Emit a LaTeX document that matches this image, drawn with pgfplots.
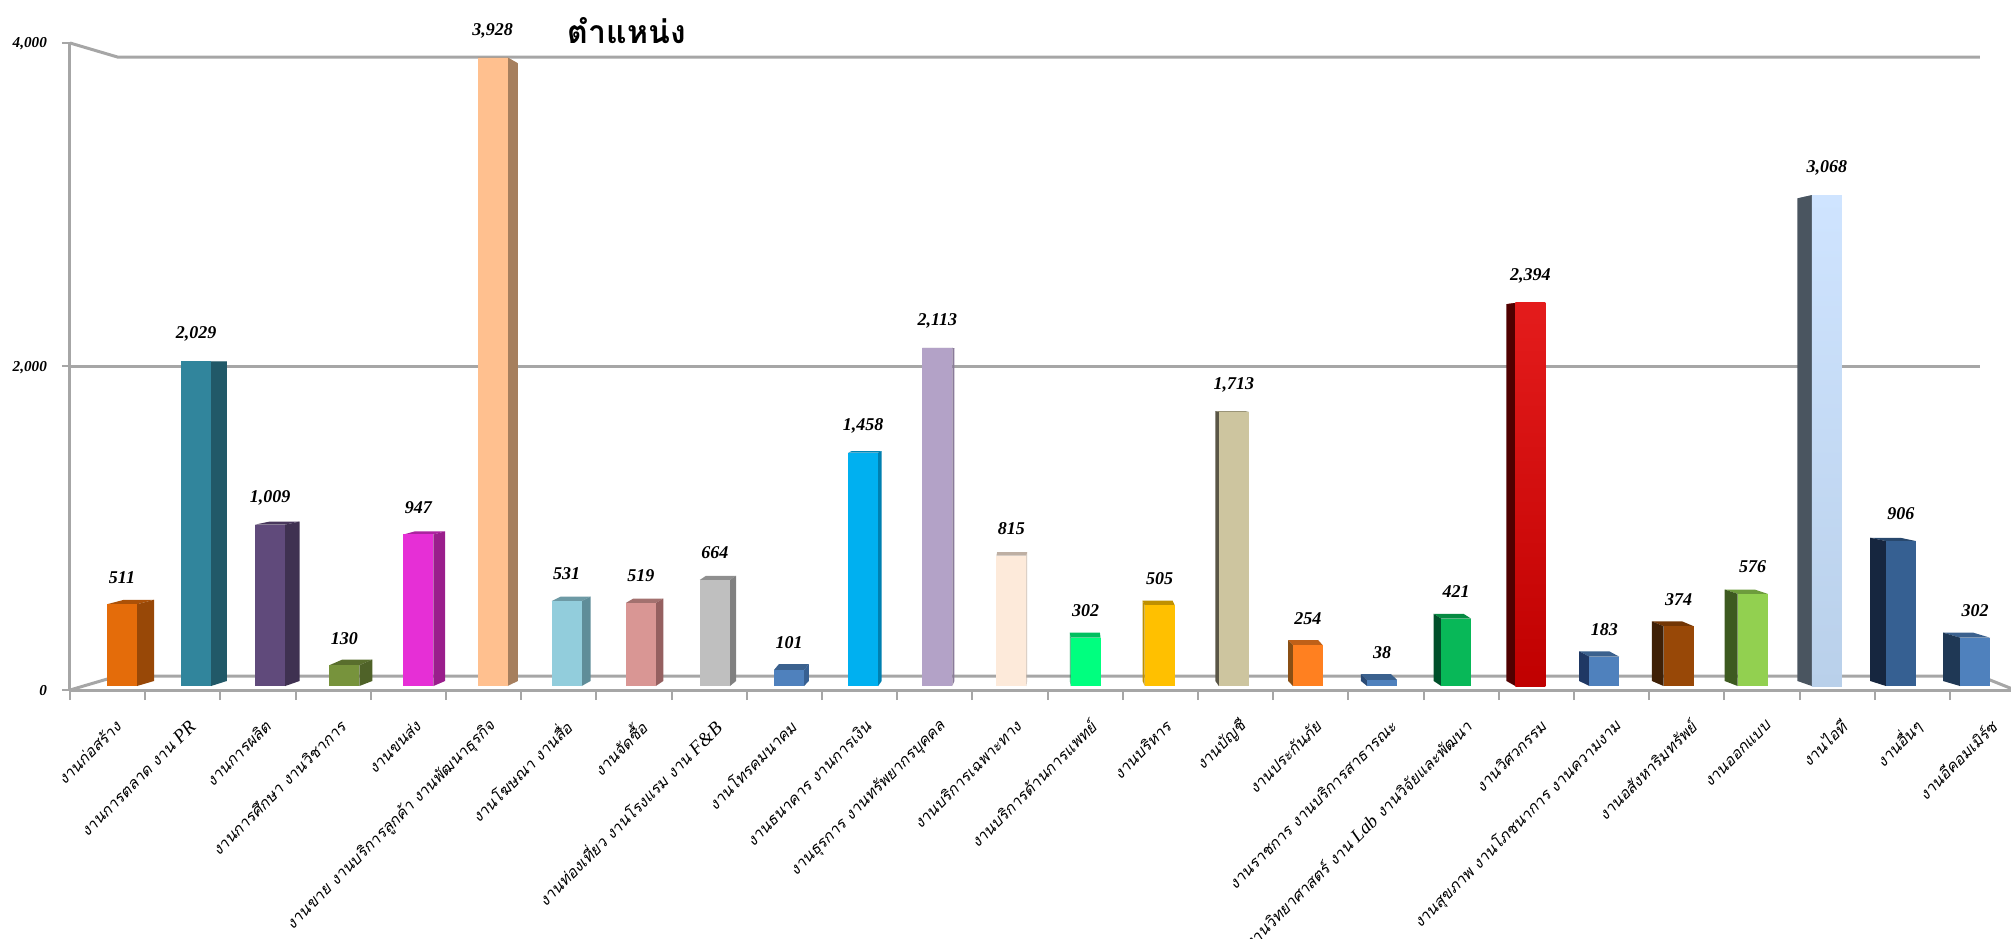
\documentclass[border=0pt]{standalone}
\usepackage{fontspec}
\usepackage{pgfplots}
\pgfplotsset{compat=1.18}
\usepackage{pgfplotstable}
\setmainfont{Liberation Serif}
\newfontfamily\numfont{Liberation Serif}
\newfontfamily\thaifont[Script=Thai]{Loma}
\newcommand{\thl}[1]{{\thaifont\itshape\fontsize{7.9}{8}\selectfont #1}}
\newcommand{\lat}[1]{{\numfont\itshape\fontsize{9.5}{9}\selectfont #1}}
\definecolor{gridgray}{HTML}{A6A6A6}
\newcommand{\cc}[3]{\definecolor{f#1}{HTML}{#2}\definecolor{s#1}{HTML}{#3}}
\cc{0}{E46C0A}{984807}
\cc{1}{31859C}{215968}
\cc{2}{604A7B}{3F3151}
\cc{3}{77933C}{4F6228}
\cc{4}{E62FD6}{9A1E8C}
\cc{5}{FFC08F}{A67F5E}
\cc{6}{92CDDC}{5F8D99}
\cc{7}{D99694}{956060}
\cc{8}{BFBFBF}{808080}
\cc{9}{4F81BD}{376092}
\cc{10}{00B0F0}{0080B0}
\cc{11}{B3A2C7}{8A7A9A}
\cc{12}{FDEADA}{C9B7A8}
\cc{13}{00FF7F}{00A050}
\cc{14}{FFC000}{BF9000}
\cc{15}{CDC59F}{5A5646}
\cc{16}{FF8020}{8A4F14}
\cc{17}{4F81BD}{2A4A75}
\cc{18}{08B858}{00502A}
\cc{19}{E41C1C}{500000}
\cc{20}{4F81BD}{1F3864}
\cc{21}{984807}{3F2006}
\cc{22}{92D050}{3D5A20}
\cc{23}{CFE4FF}{4A5560}
\cc{24}{366092}{16263F}
\cc{25}{4F81BD}{1F3855}
\definecolor{b19}{HTML}{C00000}
\definecolor{b23}{HTML}{B9D0EA}
\pgfplotstableread{
k v
0 511
1 2029
2 1009
3 130
4 947
5 3928
6 531
7 519
8 664
9 101
10 1458
11 2113
12 815
13 302
14 505
15 1713
16 254
17 38
18 421
19 2394
20 183
21 374
22 576
23 3068
24 906
25 302
}\jobs
% one bar: index, value, options of the front face
\newcommand{\jobbar}[3]{%
  \pgfmathsetmacro\xl{#1-15/74.12}%
  \pgfmathsetmacro\xr{#1+15/74.12}%
  \pgfmathsetmacro\sd{17*(12.5-#1)/12.5/74.12}%
  \pgfmathsetmacro\dt{#2+6*(1-#2/2000)/0.16}%
  \pgfmathsetmacro\db{5/0.16}%
  \pgfmathsetmacro\edge{#1<12.5?\xr:\xl}%
  \pgfmathsetmacro\edgeb{\edge+\sd}%
  \pgfmathsetmacro\xlb{\xl+\sd}%
  \pgfmathsetmacro\xrb{\xr+\sd}%
  \addplot[fill=f#1!75!black,draw=none,forget plot] coordinates {(\xl,#2) (\xr,#2) (\xrb,\dt) (\xlb,\dt)} --cycle;
  \addplot[fill=s#1,draw=none,forget plot] coordinates {(\edge,0) (\edge,#2) (\edgeb,\dt) (\edgeb,\db)} --cycle;
  \addplot[#3,draw=none,forget plot] coordinates {(\xl,0) (\xl,#2) (\xr,#2) (\xr,0)} --cycle;
}
\begin{document}
\begin{tikzpicture}[x=1pt,y=1pt]
\clip[use as bounding box] (-35,-124) rectangle (970.5,345);
\begin{axis}[
  scale only axis, width=970.5pt, height=323.5pt,
  xmin=-0.7016, xmax=25.486, ymin=-25, ymax=4018.75,
  clip=false,
  axis x line*=bottom, axis y line*=left,
  axis line style={-,draw=gridgray,line width=1.5pt},
  tick align=outside,
  major tick length=4pt,
  minor tick length=5pt,
  tick style={draw=gridgray,line width=1pt},
  x tick style={draw=none},
  minor x tick style={draw=gridgray,line width=1pt},
  ytick={-25,1997,4018.75},
  yticklabels={0,{2,000},{4,000}},
  yticklabel style={xshift=-4pt,yshift=-0.5pt,font=\numfont\bfseries\itshape\fontsize{7.6}{8}\selectfont},
  xtick={-0.135,0.877,1.890,2.902,3.915,4.927,5.939,6.952,7.964,8.977,9.989,11.001,12.014,13.026,14.039,15.051,16.063,17.076,18.088,19.101,20.113,21.125,22.138,23.150,24.163,25.175},
  minor xtick={-0.7016,0.3130,1.3275,2.3421,3.3567,4.3713,5.3858,6.4004,7.4150,8.4295,9.4441,10.4587,11.4732,12.4878,13.5024,14.5170,15.5315,16.5461,17.5607,18.5752,19.5898,20.6044,21.6189,22.6335,23.6481,24.6627},
  xticklabel style={rotate=45,anchor=east,inner sep=0pt,xshift=-7pt,yshift=-11pt},
  xticklabels={
    \thl{งานก่อสร้าง},
    \thl{งานการตลาด งาน \lat{PR}},
    \thl{งานการผลิต},
    \thl{งานการศึกษา งานวิชาการ},
    \thl{งานขนส่ง},
    \thl{งานขาย งานบริการลูกค้า งานพัฒนาธุรกิจ},
    \thl{งานโฆษณา งานสื่อ},
    \thl{งานจัดซื้อ},
    \thl{งานท่องเที่ยว งานโรงแรม งาน \lat{F\&B}},
    \thl{งานโทรคมนาคม},
    \thl{งานธนาคาร งานการเงิน},
    \thl{งานธุรการ งานทรัพยากรบุคคล},
    \thl{งานบริการเฉพาะทาง},
    \thl{งานบริการด้านการแพทย์},
    \thl{งานบริหาร},
    \thl{งานบัญชี},
    \thl{งานประกันภัย},
    \thl{งานราชการ งานบริการสาธารณะ},
    \thl{งานวิทยาศาสตร์ งาน \lat{Lab} งานวิจัยและพัฒนา},
    \thl{งานวิศวกรรม},
    \thl{งานสุขภาพ งานโภชนาการ งานความงาม},
    \thl{งานอสังหาริมทรัพย์},
    \thl{งานออกแบบ},
    \thl{งานไอที},
    \thl{งานอื่นๆ},
    \thl{งานอีคอมเมิร์ซ}},
  title={\thaifont\bfseries\fontsize{16}{17}\selectfont ตำแหน่ง},
  title style={at={(axis cs:6.81,4020)},anchor=center,inner sep=0pt},
]
% back wall and floor lines
\addplot[gridgray,line width=1.5pt,forget plot] coordinates {(-0.7016,-25) (-0.06,62.5) (25.067,62.5) (25.486,-15)};
\addplot[gridgray,line width=1.5pt,forget plot] coordinates {(-0.7016,1997) (25.067,1997)};
\addplot[gridgray,line width=1.5pt,forget plot] coordinates {(-0.7016,4018.75) (-0.06,3931) (25.067,3931)};
\jobbar{0}{511}{fill=f0}
\jobbar{1}{2029}{fill=f1}
\jobbar{2}{1009}{fill=f2}
\jobbar{3}{130}{fill=f3}
\jobbar{4}{947}{fill=f4}
\jobbar{5}{3928}{fill=f5}
\jobbar{6}{531}{fill=f6}
\jobbar{7}{519}{fill=f7}
\jobbar{8}{664}{fill=f8}
\jobbar{9}{101}{fill=f9}
\jobbar{10}{1458}{fill=f10}
\jobbar{11}{2113}{fill=f11}
\jobbar{12}{815}{fill=f12}
\jobbar{13}{302}{fill=f13}
\jobbar{14}{505}{fill=f14}
\jobbar{15}{1713}{fill=f15}
\jobbar{16}{254}{fill=f16}
\jobbar{17}{38}{fill=f17}
\jobbar{18}{421}{fill=f18}
\jobbar{19}{2394}{top color=f19,bottom color=b19}
\jobbar{20}{183}{fill=f20}
\jobbar{21}{374}{fill=f21}
\jobbar{22}{576}{fill=f22}
\jobbar{23}{3068}{top color=f23,bottom color=b23}
\jobbar{24}{906}{fill=f24}
\jobbar{25}{302}{fill=f25}
\addplot[draw=none,mark=none,forget plot,
  nodes near coords,
  nodes near coords align={center},
  every node near coord/.append style={yshift=13.5pt,black,
    /pgf/number format/assume math mode=true,
    /pgf/number format/1000 sep={,},
    font=\numfont\bfseries\itshape\fontsize{9}{10}\selectfont},
] table[x=k,y=v] {\jobs};
\end{axis}
\end{tikzpicture}
\end{document}
